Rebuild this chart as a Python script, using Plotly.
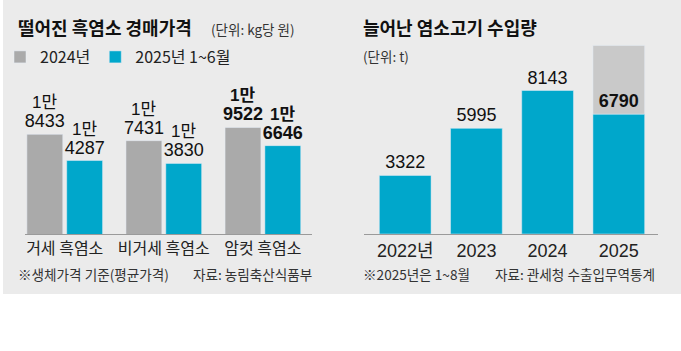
import plotly.graph_objects as go

# ---------------- data ----------------
goat_types = ["거세 흑염소", "비거세 흑염소", "암컷 흑염소"]
price_2024 = [18433, 17431, 19522]
price_2025 = [14287, 13830, 16646]
legend_names = ["2024년", "2025년 1~6월"]

years = ["2022년", "2023", "2024", "2025"]
imports = [3322, 5995, 8143, 6790]
imports_extra = [None, None, None, 3910]   # light-gray part above 2025 bar

# ---------------- style ----------------
W, H = 681, 351
BG = "#ebebeb"
GRAY = "#aaaaaa"
TEAL = "#00a7cb"
LIGHT = "#c9c9c9"
KR = "Noto Sans CJK KR"
NUM = "Liberation Sans, Noto Sans CJK KR"

def fy(py):
    return 1 - py / H

def fx(px):
    return px / W

def man_parts(v):
    return f"{v // 10000}만", f"{v % 10000}"

bold_left = "암컷 흑염소"
bold_right = "2025"

def wrap(s, b):
    return f"<b>{s}</b>" if b else s

fig = go.Figure()

# left chart bars
GOFF = 0.201
for vals, name, color, off in [(price_2024, legend_names[0], GRAY, -0.382),
                               (price_2025, legend_names[1], TEAL, 0.02)]:
    fig.add_trace(go.Bar(
        x=goat_types, y=vals, name=name, marker_color=color,
        width=0.362, offset=off,
        text=[wrap(man_parts(v)[1], c == bold_left) for v, c in zip(vals, goat_types)],
        textposition="outside", cliponaxis=False, constraintext="none",
        textfont=dict(family=NUM, size=18, color="#111"),
        xaxis="x", yaxis="y", hoverinfo="skip",
    ))

# right chart bars
fig.add_trace(go.Bar(
    x=years, y=imports_extra, base=imports, marker_color=LIGHT, width=0.727,
    showlegend=False, xaxis="x2", yaxis="y2", hoverinfo="skip",
))
fig.add_trace(go.Bar(
    x=years, y=imports, marker_color=TEAL, width=0.727, showlegend=False,
    text=[wrap(str(v), y == bold_right) for v, y in zip(imports, years)],
    textposition="outside", cliponaxis=False, constraintext="none",
    textfont=dict(family=NUM, size=18, color="#111"),
    xaxis="x2", yaxis="y2", hoverinfo="skip",
))

annotations = []
# "1만" upper lines for left chart labels
for i, c in enumerate(goat_types):
    for vals, sgn in [(price_2024, -1), (price_2025, 1)]:
        v = vals[i]
        annotations.append(dict(
            x=i + sgn * GOFF, y=v, xref="x", yref="y", yanchor="bottom",
            yshift=20, showarrow=False,
            text=wrap(man_parts(v)[0], c == bold_left),
            font=dict(family=NUM, size=17, color="#111"),
        ))

def txt(px, py, s, size, color="#222", bold=False, family=KR):
    annotations.append(dict(
        x=fx(px), y=fy(py), xref="paper", yref="paper", xanchor="left",
        yanchor="middle", showarrow=False, text=wrap(s, bold),
        font=dict(family=family, size=size, color=color),
    ))

txt(13, 27, "떨어진 흑염소 경매가격", 18, "#111", True)
txt(207, 29, "(단위: kg당 원)", 13.5, "#333")
txt(360, 27, "늘어난 염소고기 수입량", 18, "#111", True)
txt(360, 56, "(단위: t)", 13.5, "#333")
txt(13, 274, "※생체가격 기준(평균가격)", 13.6, "#333")
txt(189, 274, "자료: 농림축산식품부", 13.6, "#333")
txt(360, 274, "※2025년은 1~8월", 13.6, "#333")
txt(492, 274, "자료: 관세청 수출입무역통계", 13.6, "#333")

fig.update_layout(
    width=W, height=H, margin=dict(l=0, r=0, t=0, b=0),
    paper_bgcolor="white", plot_bgcolor="rgba(0,0,0,0)",
    barmode="overlay", showlegend=True,
    legend=dict(orientation="h", x=fx(-3), y=fy(57), xanchor="left", yanchor="middle",
                font=dict(family=KR, size=16, color="#222"), bgcolor="rgba(0,0,0,0)",
                itemclick=False, itemdoubleclick=False, traceorder="normal"),
    xaxis=dict(domain=[fx(22), fx(310)], type="category", range=[-0.402, 2.492],
               showline=True, linecolor="#9a9a9a", linewidth=1, ticks="",
               showgrid=False, zeroline=False, fixedrange=True,
               tickfont=dict(family=KR, size=16, color="#222"), anchor="y"),
    yaxis=dict(domain=[fy(234), fy(60)], range=[2640, 2640 + 174 * 158.5],
               visible=False, fixedrange=True, anchor="x"),
    xaxis2=dict(domain=[fx(363), fx(658)], type="category", range=[-0.573, 3.552],
                showline=True, linecolor="#9a9a9a", linewidth=1, ticks="",
                showgrid=False, zeroline=False, fixedrange=True,
                tickfont=dict(family=NUM, size=18, color="#222"), anchor="y2"),
    yaxis2=dict(domain=[fy(234), fy(40)], range=[0, 194 / 0.017623],
                visible=False, fixedrange=True, anchor="x2"),
    shapes=[dict(type="rect", xref="paper", yref="paper", x0=0, x1=1,
                 y0=fy(294), y1=1, fillcolor=BG, line=dict(width=0), layer="below")],
    annotations=annotations,
)

fig.write_html("out.html")
